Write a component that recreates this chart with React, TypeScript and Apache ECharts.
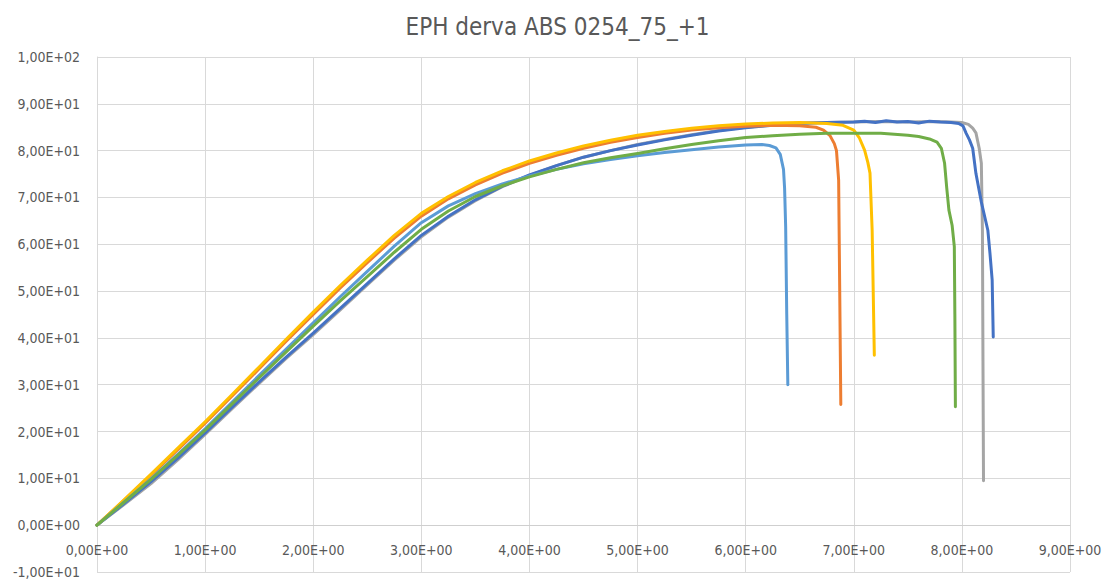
import React, { useEffect, useRef } from "react";
import * as echarts from "echarts";

const titleText = "EPH derva ABS 0254_75_+1";
const seriesNames = ["Serie 3", "Serie 1", "Serie 2", "Serie 4", "Serie 5", "Serie 6"];
const seriesColors = ["#A5A5A5", "#4472C4", "#ED7D31", "#FFC000", "#5B9BD5", "#70AD47"];

const xTicks = { min: 0, max: 9, interval: 1 };
const yTicks = { min: -10, max: 100, interval: 10 };

// gray
const s3: number[][] = [
  [0, 0], [0.25, 4.4], [0.5, 8.9], [0.75, 14.0], [1, 19.4], [1.25, 24.9], [1.5, 30.3], [1.75, 35.6],
  [2, 40.7], [2.25, 46.0], [2.5, 51.3], [2.75, 56.6], [3, 61.6], [3.25, 65.8], [3.5, 69.3], [3.75, 72.3],
  [4, 74.7], [4.25, 76.8], [4.5, 78.6], [4.75, 80.0], [5, 81.3], [5.25, 82.4], [5.5, 83.4], [5.75, 84.3],
  [6, 85.0], [6.25, 85.5], [6.5, 85.9], [6.75, 86.0], [7, 86.1], [7.25, 86.2], [7.5, 86.1], [7.75, 86.2],
  [7.9, 86.1], [8.0, 86.0], [8.06, 85.6], [8.1, 84.8], [8.13, 83.8], [8.16, 80.5], [8.18, 77.3],
  [8.185, 70], [8.19, 63], [8.195, 35], [8.2, 9.5],
];
// dark blue
const s1: number[][] = [
  [0, 0], [0.25, 4.6], [0.5, 9.3], [0.75, 14.4], [1, 19.7], [1.25, 25.2], [1.5, 30.6], [1.75, 35.9],
  [2, 41.0], [2.25, 46.3], [2.5, 51.6], [2.75, 56.9], [3, 61.9], [3.25, 66.0], [3.5, 69.5], [3.75, 72.4],
  [4, 74.8], [4.25, 76.8], [4.5, 78.6], [4.75, 80.0], [5, 81.2], [5.25, 82.3], [5.5, 83.3], [5.75, 84.2],
  [6, 84.9], [6.25, 85.4], [6.5, 85.8], [6.75, 86.0], [7, 86.1], [7.1, 86.3], [7.2, 86.0], [7.3, 86.4],
  [7.4, 86.1], [7.5, 86.2], [7.6, 85.9], [7.7, 86.3], [7.8, 86.1], [7.9, 86.0], [7.97, 85.8], [8.01, 85.3],
  [8.04, 83.7], [8.07, 82.3], [8.1, 80.5], [8.13, 75.1], [8.18, 69.0], [8.24, 63.0], [8.26, 58.0],
  [8.28, 52.4], [8.29, 40.2],
];
// orange
const s2: number[][] = [
  [0, 0], [0.25, 5.3], [0.5, 10.7], [0.75, 16.2], [1, 21.8], [1.25, 27.6], [1.5, 33.4], [1.75, 39.3],
  [2, 45.0], [2.25, 50.7], [2.5, 56.1], [2.75, 61.3], [3, 66.0], [3.25, 69.7], [3.5, 72.7], [3.75, 75.2],
  [4, 77.3], [4.25, 79.0], [4.5, 80.5], [4.75, 81.8], [5, 82.8], [5.25, 83.7], [5.5, 84.4], [5.75, 84.9],
  [6, 85.2], [6.25, 85.4], [6.5, 85.3], [6.65, 85.0], [6.72, 84.4], [6.78, 83.2], [6.82, 81.5],
  [6.84, 80.0], [6.86, 73.7], [6.87, 50.0], [6.88, 25.8],
];
// yellow
const s4: number[][] = [
  [0, 0], [0.25, 5.4], [0.5, 10.9], [0.75, 16.5], [1, 22.1], [1.25, 27.9], [1.5, 33.8], [1.75, 39.7],
  [2, 45.5], [2.25, 51.2], [2.5, 56.6], [2.75, 61.9], [3, 66.6], [3.25, 70.2], [3.5, 73.2], [3.75, 75.7],
  [4, 77.8], [4.25, 79.5], [4.5, 81.0], [4.75, 82.2], [5, 83.3], [5.25, 84.1], [5.5, 84.8], [5.75, 85.3],
  [6, 85.7], [6.25, 85.9], [6.5, 86.0], [6.75, 85.8], [6.9, 85.4], [7.0, 84.4], [7.05, 82.8],
  [7.1, 80.1], [7.13, 77.5], [7.15, 75.2], [7.17, 63.0], [7.19, 36.3],
];
// light blue
const s5: number[][] = [
  [0, 0], [0.25, 4.9], [0.5, 9.9], [0.75, 15.2], [1, 20.6], [1.25, 26.3], [1.5, 32.0], [1.75, 37.6],
  [2, 43.2], [2.25, 48.8], [2.5, 54.2], [2.75, 59.6], [3, 64.6], [3.25, 68.2], [3.5, 70.8], [3.75, 72.9],
  [4, 74.6], [4.25, 76.0], [4.5, 77.2], [4.75, 78.1], [5, 78.9], [5.25, 79.6], [5.5, 80.2], [5.75, 80.8],
  [6, 81.2], [6.15, 81.3], [6.22, 81.1], [6.28, 80.6], [6.32, 79.2], [6.35, 76.0], [6.36, 72.0],
  [6.37, 63.7], [6.38, 45.0], [6.39, 30.0],
];
// green
const s6: number[][] = [
  [0, 0], [0.25, 4.9], [0.5, 9.8], [0.75, 15.0], [1, 20.3], [1.25, 25.9], [1.5, 31.5], [1.75, 37.0],
  [2, 42.5], [2.25, 47.9], [2.5, 53.1], [2.75, 58.3], [3, 63.2], [3.25, 67.1], [3.5, 70.2], [3.75, 72.5],
  [4, 74.4], [4.25, 76.0], [4.5, 77.4], [4.75, 78.5], [5, 79.4], [5.25, 80.4], [5.5, 81.3], [5.75, 82.1],
  [6, 82.8], [6.25, 83.2], [6.5, 83.5], [6.75, 83.7], [7, 83.7], [7.25, 83.7], [7.5, 83.3], [7.6, 83.0],
  [7.7, 82.5], [7.77, 81.8], [7.81, 80.5], [7.84, 77.3], [7.86, 72.0], [7.88, 67.3], [7.91, 64.0],
  [7.93, 59.5], [7.935, 45.0], [7.94, 25.3],
];

const seriesData = [s3, s1, s2, s4, s5, s6];

function sci(v: number): string {
  if (Math.abs(v) < 1e-12) return "0,00E+00";
  const e = Math.floor(Math.log10(Math.abs(v)) + 1e-9);
  const m = v / Math.pow(10, e);
  const sign = e < 0 ? "-" : "+";
  return m.toFixed(2).replace(".", ",") + "E" + sign + String(Math.abs(e)).padStart(2, "0");
}

const FONT = "'DejaVu Sans Condensed', 'Liberation Sans Narrow', sans-serif";

const GRID = { left: 97, right: 45, top: 57, bottom: 14 };
const CHART_H = 586;

export default function App() {
  const ref = useRef<HTMLDivElement>(null);
  useEffect(() => {
    if (!ref.current) return;
    const chart = echarts.init(ref.current, undefined, { renderer: "svg" });
    const gridH = CHART_H - GRID.top - GRID.bottom;
    // shift the x axis (line + labels) up to where y = 0 lies, as Excel does
    const zeroOffset = -((0 - yTicks.min) / (yTicks.max - yTicks.min)) * gridH;
    chart.setOption({
      animation: false,
      backgroundColor: "#ffffff",
      title: {
        text: titleText,
        left: "center",
        top: 10,
        textStyle: { fontFamily: FONT, fontSize: 24, fontWeight: "normal", color: "#595959" },
      },
      grid: {
        ...GRID,
        containLabel: false,
        outerBoundsMode: "none",
      },
      xAxis: {
        type: "value",
        min: xTicks.min,
        max: xTicks.max,
        interval: xTicks.interval,
        offset: zeroOffset,
        axisLine: { show: true, onZero: false, lineStyle: { color: "#cfcfcf", width: 1 } },
        axisTick: { show: false },
        axisLabel: {
          formatter: (v: number) => sci(v),
          margin: 18,
          fontFamily: FONT,
          fontSize: 14,
          color: "#595959",
          showMinLabel: true,
          showMaxLabel: true,
          hideOverlap: false,
        },
        splitLine: { show: true, lineStyle: { color: "#d9d9d9", width: 1 } },
      },
      yAxis: {
        type: "value",
        min: yTicks.min,
        max: yTicks.max,
        interval: yTicks.interval,
        axisLine: { show: true, onZero: false, lineStyle: { color: "#d9d9d9", width: 1 } },
        axisTick: { show: false },
        axisLabel: {
          formatter: (v: number) => sci(v),
          margin: 17,
          fontFamily: FONT,
          fontSize: 14,
          color: "#595959",
          showMinLabel: true,
          showMaxLabel: true,
          hideOverlap: false,
        },
        splitLine: { show: true, lineStyle: { color: "#d9d9d9", width: 1 } },
      },
      series: seriesData.map((d, i) => ({
        name: seriesNames[i],
        type: "line",
        data: d,
        showSymbol: false,
        symbol: "none",
        smooth: false,
        lineStyle: { color: seriesColors[i], width: 3, cap: "round", join: "round" },
        itemStyle: { color: seriesColors[i] },
      })),
    });
    return () => chart.dispose();
  }, []);
  return (
    <div
      ref={ref}
      style={{ position: "absolute", left: 0, top: 0, width: 1115, height: CHART_H, background: "#fff" }}
    />
  );
}
